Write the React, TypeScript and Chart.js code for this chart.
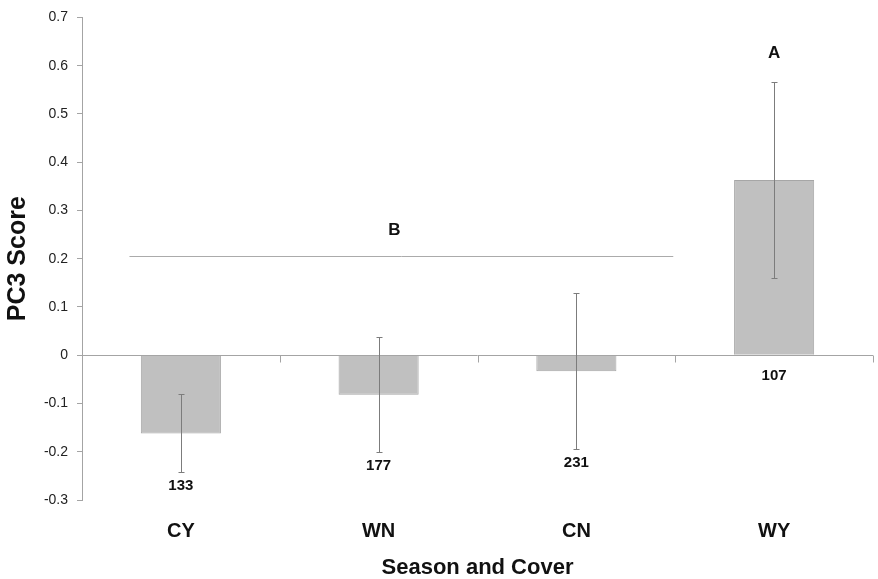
import React, { useEffect, useRef } from "react";
import { Chart, registerables } from "chart.js";

Chart.register(...registerables);

const categories = ["CY", "WN", "CN", "WY"];
const meanScores = [-0.162, -0.082, -0.033, 0.363];
const errorHalfWidths = [0.081, 0.119, 0.162, 0.204];
const sampleSizes = ["133", "177", "231", "107"];
const yTickMin = -0.3;
const yTickMax = 0.7;
const yTickStep = 0.1;
const groupBLabel = "B";
const groupBValue = 0.205;
const groupBStart = -0.26;
const groupBEnd = 2.49;
const groupBLabelAt = 1.08;
const groupBLabelValue = 0.258;
const groupALabel = "A";
const groupALabelAt = 3;
const groupALabelValue = 0.625;

const FONT = '"Liberation Sans", Arial, Helvetica, sans-serif';

const annotationPlugin = {
  id: "annotations",
  beforeDatasetsDraw(chart: any) {
    const { ctx, scales } = chart;
    const x = scales.x;
    const y = scales.y;
    const y0 = Math.round(y.getPixelForValue(0)) + 0.5;
    ctx.save();
    ctx.strokeStyle = "#a4a4a4";
    ctx.lineWidth = 1;
    ctx.beginPath();
    ctx.moveTo(x.left, y0);
    ctx.lineTo(x.right, y0);
    for (let i = 0; i < categories.length; i++) {
      const bx = Math.round(x.getPixelForValue(i + 0.5)) + 0.5;
      ctx.moveTo(bx, y0);
      ctx.lineTo(bx, y0 + 7);
    }
    ctx.stroke();
    ctx.restore();
  },
  afterDatasetsDraw(chart: any) {
    const { ctx, scales } = chart;
    const x = scales.x;
    const y = scales.y;
    ctx.save();
    // error bars
    ctx.strokeStyle = "#7c7c7c";
    ctx.lineWidth = 1;
    for (let i = 0; i < categories.length; i++) {
      const cx = Math.round(x.getPixelForValue(i)) + 0.5;
      const top = Math.round(y.getPixelForValue(meanScores[i] + errorHalfWidths[i])) + 0.5;
      const bot = Math.round(y.getPixelForValue(meanScores[i] - errorHalfWidths[i])) + 0.5;
      ctx.beginPath();
      ctx.moveTo(cx, top);
      ctx.lineTo(cx, bot);
      ctx.moveTo(cx - 3, top);
      ctx.lineTo(cx + 3, top);
      ctx.moveTo(cx - 3, bot);
      ctx.lineTo(cx + 3, bot);
      ctx.stroke();
    }
    // group B line
    ctx.strokeStyle = "#ababab";
    const gy = Math.round(y.getPixelForValue(groupBValue)) + 0.5;
    ctx.beginPath();
    ctx.moveTo(x.getPixelForValue(groupBStart), gy);
    ctx.lineTo(x.getPixelForValue(groupBEnd), gy);
    ctx.stroke();
    // letters
    ctx.fillStyle = "#111";
    ctx.textAlign = "center";
    ctx.textBaseline = "middle";
    ctx.font = `bold 17px ${FONT}`;
    ctx.fillText(groupBLabel, x.getPixelForValue(groupBLabelAt), y.getPixelForValue(groupBLabelValue));
    ctx.fillText(groupALabel, x.getPixelForValue(groupALabelAt), y.getPixelForValue(groupALabelValue));
    // sample sizes
    ctx.font = `bold 15px ${FONT}`;
    ctx.textBaseline = "top";
    for (let i = 0; i < categories.length; i++) {
      const low = Math.min(0, meanScores[i] - errorHalfWidths[i]);
      const py = y.getPixelForValue(low) + (low === 0 ? 13 : 6);
      ctx.fillText(sampleSizes[i], x.getPixelForValue(i), py);
    }
    ctx.restore();
  },
};

export default function App() {
  const ref = useRef<HTMLCanvasElement>(null);
  useEffect(() => {
    if (!ref.current) return;
    const chart = new Chart(ref.current, {
      type: "bar",
      data: {
        labels: categories,
        datasets: [
          {
            data: meanScores,
            backgroundColor: "#c0c0c0",
            borderColor: "#a6a6a6",
            borderWidth: 1,
            categoryPercentage: 1,
            barPercentage: 0.405,
          },
        ],
      },
      options: {
        animation: false,
        responsive: false,
        devicePixelRatio: 1,
        layout: { padding: { left: 0, right: 5, top: 13, bottom: 0 } },
        plugins: { legend: { display: false }, tooltip: { enabled: false } },
        scales: {
          x: {
            offset: true,
            grid: { display: false, drawTicks: false },
            border: { display: false },
            ticks: {
              color: "#111",
              font: { family: FONT, size: 20, weight: "bold" },
              padding: 19,
            },
            title: {
              display: true,
              text: "Season and Cover",
              color: "#111",
              font: { family: FONT, size: 22, weight: "bold" },
              padding: { top: 0, bottom: -2 },
            },
            afterFit(scale: any) {
              scale.height = 79;
            },
          },
          y: {
            min: yTickMin,
            max: yTickMax,
            grid: {
              drawOnChartArea: false,
              drawTicks: true,
              tickLength: 5,
              color: "#a4a4a4",
            },
            border: { display: true, color: "#a4a4a4", width: 1 },
            ticks: {
              stepSize: yTickStep,
              color: "#222",
              font: { family: FONT, size: 14 },
              padding: 9,
              callback: (v: any) => String(Number(Number(v).toFixed(1))),
            },
            title: {
              display: true,
              text: "PC3 Score",
              color: "#111",
              font: { family: FONT, size: 25, weight: "bold" },
              padding: { top: 3, bottom: 0 },
            },
            afterFit(scale: any) {
              scale.width = 82;
            },
          },
        },
      },
      plugins: [annotationPlugin],
    });
    return () => chart.destroy();
  }, []);
  return (
    <div style={{ position: "fixed", left: 0, top: 0, width: 878, height: 579, background: "#fff" }}>
      <canvas ref={ref} width={878} height={579} style={{ display: "block" }} />
    </div>
  );
}
